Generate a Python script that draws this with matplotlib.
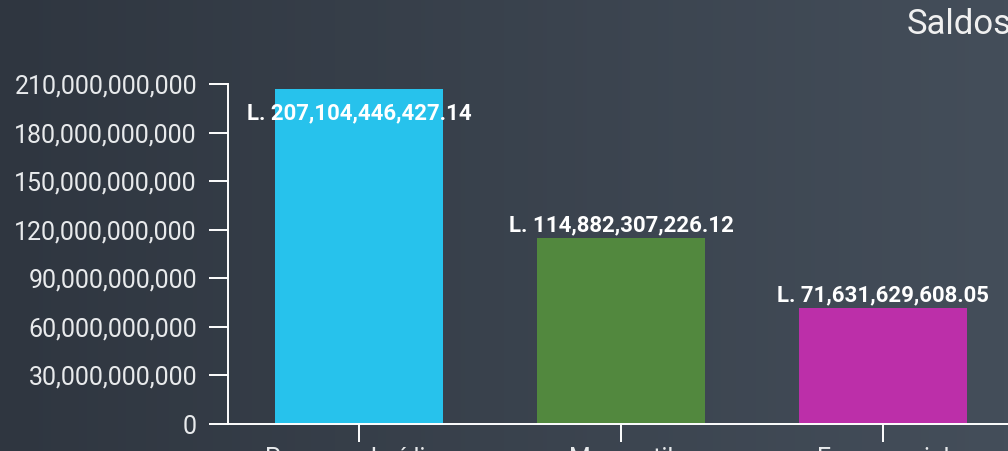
import numpy as np
import matplotlib
matplotlib.use("Agg")
import matplotlib.pyplot as plt
from matplotlib.colors import LinearSegmentedColormap
from matplotlib.ticker import FuncFormatter

# datos
categorias = ["Persona Jurídica", "Mercantil", "Empresarial"]
saldos = [207104446427.14, 114882307226.12, 71631629608.05]
colores = ["#27c2ec", "#52883e", "#bc2fa9"]
y_ticks = [0, 30e9, 60e9, 90e9, 120e9, 150e9, 180e9, 210e9]

plt.rcParams['font.family'] = ['Roboto', 'DejaVu Sans']

fig = plt.figure(figsize=(10.08, 4.51), dpi=100)

# fondo degradado
bg = fig.add_axes([0, 0, 1, 1], zorder=-10)
cmap = LinearSegmentedColormap.from_list("fondo", ["#2f3640", "#444e5a"])
bg.imshow(np.linspace(0, 1, 256).reshape(1, -1), aspect="auto", cmap=cmap,
          extent=[0, 1, 0, 1])
bg.axis("off")

ax = fig.add_axes([228 / 1008, 27 / 451, 786 / 1008, 340 / 451])
ax.set_facecolor("none")

x = np.arange(len(categorias))
ax.bar(x, saldos, width=0.64, color=colores, zorder=2)

ax.set_xlim(-0.5, 2.5)
ax.set_ylim(0, 210e9)
ax.set_yticks(y_ticks)
ax.yaxis.set_major_formatter(FuncFormatter(lambda v, p: "{:,.0f}".format(v)))
ax.set_xticks(x)
ax.set_xticklabels(categorias)

for s in ["top", "right"]:
    ax.spines[s].set_visible(False)
for s in ["left", "bottom"]:
    ax.spines[s].set_color("white")
    ax.spines[s].set_linewidth(1.4)

ax.tick_params(axis="y", length=13.7, width=1.4, color="white",
               labelcolor="#e8eaec", labelsize=18, pad=8.6)
ax.tick_params(axis="x", length=13, width=1.4, color="white",
               labelcolor="#e8eaec", labelsize=18, pad=3.5)

# etiquetas de valores
for xi, v in zip(x, saldos):
    txt = "L. {:,.2f}".format(v)
    if v > 0.95 * 210e9:
        ax.annotate(txt, (xi, v), xytext=(0, -10), textcoords="offset points",
                    ha="center", va="top", color="white", fontsize=16,
                    fontweight="bold", zorder=3)
    else:
        ax.annotate(txt, (xi, v), xytext=(0, 5), textcoords="offset points",
                    ha="center", va="baseline", color="white", fontsize=16,
                    fontweight="bold", zorder=3)

fig.text(907 / 1008, 1 - 24 / 451, "Saldos", color="#f0f0f0", fontsize=25,
         ha="left", va="center")

fig.savefig("out.png", dpi=100)
